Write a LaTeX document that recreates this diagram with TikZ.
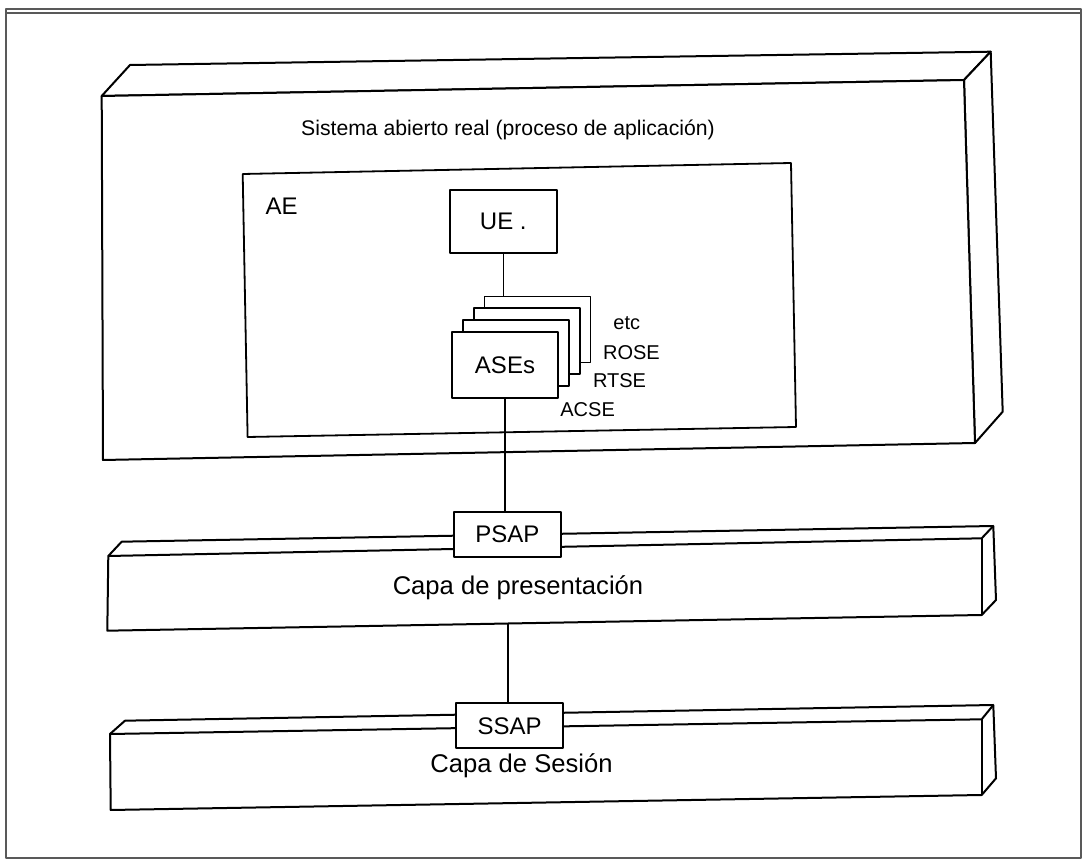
\documentclass[tikz,border=0pt]{standalone}
\usepackage{fontspec}
\setmainfont{Liberation Sans}
\usetikzlibrary{calc}

\begin{document}
\begin{tikzpicture}[x=0.5pt, y=-0.5pt, line join=round,
  every node/.style={font=\fontsize{12}{14}\selectfont, inner sep=0pt},
  face/.style={draw, line width=1pt, fill=white},
  card/.style={face, line width=0.9pt, minimum width=53pt, minimum height=33pt},
  sap/.style={face, line width=0.9pt, minimum width=53.5pt, minimum height=22.5pt},
  tag/.style={font=\fontsize{10}{12}\selectfont, anchor=base west},
  link/.style={draw, line width=0.6pt}]
  \useasboundingbox (0,0) rectangle (1084,861);
  % frame
  \draw[line width=1pt, black!65] (6,9) rectangle (1081,858);
  \draw[line width=0.8pt, black!65] (6,13) -- (1081,13);

  % open system block
  \draw[face] (101.7,96) -- (130,65) -- (990.7,51.7) -- (964,80) -- cycle;
  \draw[face] (964,80) -- (990.7,51.7) -- (1002.7,411.7) -- (975,443) -- cycle;
  \draw[face] (101.7,96) -- (964,80) -- (975,443) -- (103,460) -- cycle;
  \node[anchor=base, font=\fontsize{10.6}{12}\selectfont] (sysname) at (508,136) {Sistema abierto real (proceso de aplicación)};

  % application entity
  \draw[face, line width=0.9pt] (242.7,174) -- (791,163) -- (796,427) -- (247.6,437) -- cycle;
  \node[anchor=base] (aename) at (281.7,215) {AE};
  \node[face, line width=0.9pt, minimum width=53.3pt, minimum height=31.5pt] (ue) at (503.3,221.5) {UE .};
  \foreach \k in {3,2,1}
    \node[card] (ase\k) at ($(505,365)+\k*(10.8,-11.8)$) {};
  \node[card] (ases) at (505,365) {ASEs};
  \node[tag] (etc) at (613,330) {etc};
  \node[tag] (rose) at (602.7,360) {ROSE};
  \node[tag] (rtse) at (592.7,388) {RTSE};
  \node[tag] (acse) at (560,416.7) {ACSE};
  \draw[link] (ue.south) -- (ue.south |- ase3.north);

  % presentation layer
  \draw[face] (107.3,630.7) -- (108.3,556) -- (121.7,541.7) -- (993.3,526) -- (996,600) -- (981.7,615) -- cycle;
  \draw[line width=1pt] (108.3,556) -- (981.7,538.3) -- (993.3,526);
  \draw[line width=1pt] (981.7,538.3) -- (981.7,615);
  \coordinate (presbot) at (508,623.5);
  \node[sap] (psap) at (507.4,534.2) {PSAP};
  \node[anchor=base, font=\fontsize{12.8}{14}\selectfont] (presname) at (518,595) {Capa de presentación};
  \draw[link] (ases.south) -- (ases.south |- psap.north);

  % session layer
  \draw[face] (110.7,810) -- (110,734) -- (125,720.7) -- (993.3,705) -- (996,778.3) -- (981.7,795) -- cycle;
  \draw[line width=1pt] (110,734) -- (981.7,719.3) -- (993.3,705);
  \draw[line width=1pt] (981.7,719.3) -- (981.7,795);
  \node[sap] (ssap) at (509.7,725.8) {SSAP};
  \node[anchor=base, font=\fontsize{12.8}{14}\selectfont] (sesname) at (521.5,772.5) {Capa de Sesión};
  \draw[link] (presbot) -- (presbot |- ssap.north);
\end{tikzpicture}
\end{document}
